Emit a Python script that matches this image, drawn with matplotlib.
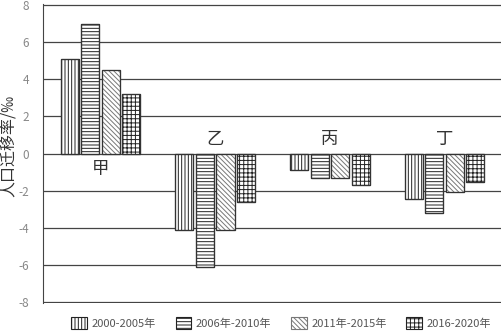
import matplotlib.pyplot as plt
import numpy as np

plt.rcParams['font.family'] = ['Noto Sans CJK SC', 'DejaVu Sans']
plt.rcParams['hatch.linewidth'] = 0.7

# 区域与时期
regions = ['甲', '乙', '丙', '丁']
periods = ['2000-2005年', '2006年-2010年', '2011年-2015年', '2016-2020年']
values = {
    '2000-2005年': [5.1, -4.1, -0.9, -2.45],
    '2006年-2010年': [7.0, -6.1, -1.3, -3.2],
    '2011年-2015年': [4.5, -4.1, -1.3, -2.05],
    '2016-2020年': [3.2, -2.6, -1.7, -1.55],
}
hatches = ['|||||', '-----', '\\\\\\\\\\\\\\', '++++']
hatch_cols = ['#222222', '#222222', '#777777', '#222222']
yticks = [-8, -6, -4, -2, 0, 2, 4, 6, 8]

fig = plt.figure(figsize=(5.02, 3.36), dpi=100)
ax = fig.add_axes([0.086, 0.098, 0.914, 0.89])

x = np.arange(len(regions))
w = 0.157
step = 0.179
for i, p in enumerate(periods):
    ax.bar(x + (i - 1.5) * step, values[p], width=w, facecolor='white',
           edgecolor=hatch_cols[i], hatch=hatches[i], linewidth=0.8,
           label=p, zorder=3)
    # 外框
    ax.bar(x + (i - 1.5) * step, values[p], width=w, facecolor='none',
           edgecolor='#333333', linewidth=0.9, zorder=4)

# 区域标签放在柱子另一侧
for xi, r in zip(x, regions):
    if values[periods[0]][xi] > 0:
        ax.text(xi, -0.85, r, ha='center', va='center', fontsize=12.5, color='#333333')
    else:
        ax.text(xi, 0.8, r, ha='center', va='center', fontsize=12.5, color='#333333')

ax.set_xlim(-0.5, 3.5)
ax.set_ylim(-8.05, 8.05)
ax.set_yticks(yticks)
ax.set_yticklabels([str(t) for t in yticks])
ax.set_xticks([])
ax.grid(axis='y', color='#444444', linewidth=0.9, zorder=1)
for s in ['top', 'right', 'bottom']:
    ax.spines[s].set_visible(False)
ax.spines['left'].set_color('#444444')
ax.tick_params(axis='y', length=0, colors='#888888', labelsize=8.5, pad=10)
fig.text(9 / 502, 1 - 146 / 336, '人口迁移率/‰', rotation=90, ha='center', va='center',
         fontsize=11.5, color='#333333')

fig.legend(loc='lower center', bbox_to_anchor=(0.56, -0.01), ncol=4, frameon=False,
           fontsize=8, labelcolor='#555555', handlelength=1.4, handleheight=1.4,
           columnspacing=1.8, handletextpad=0.4)

plt.savefig('out.png', dpi=100)
